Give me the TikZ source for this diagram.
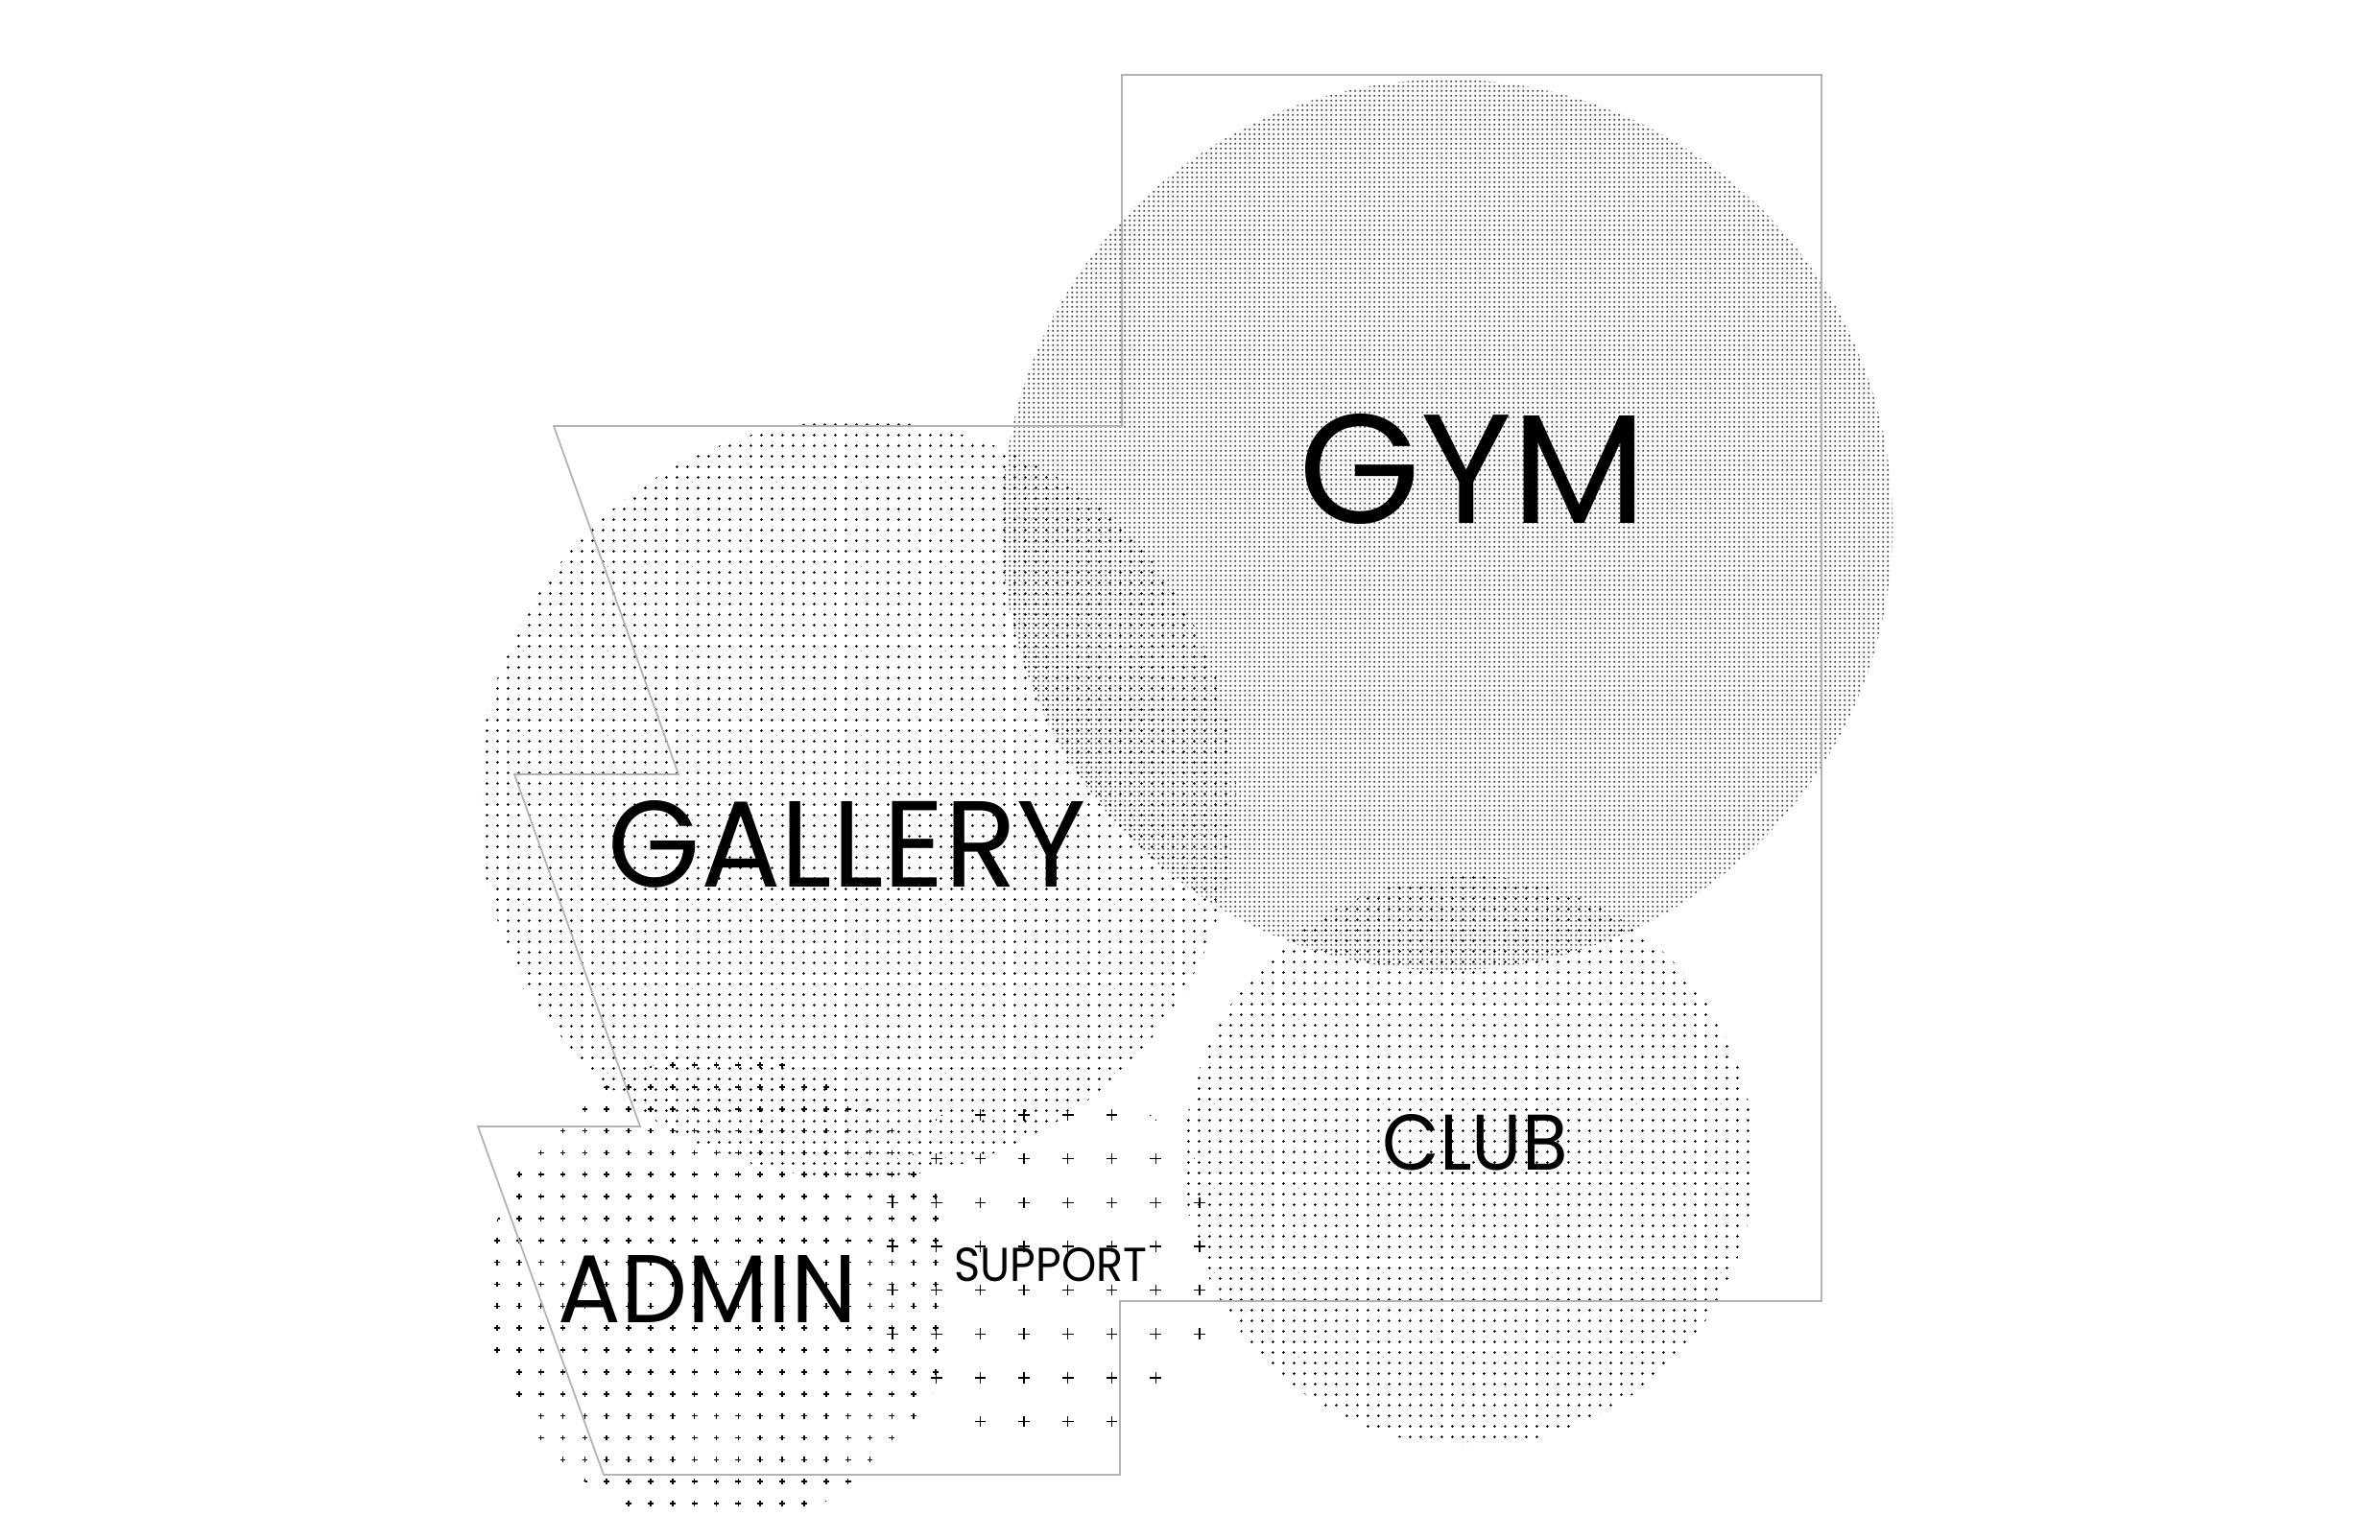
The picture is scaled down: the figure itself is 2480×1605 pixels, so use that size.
\documentclass[tikz,border=0pt]{standalone}
\usepackage{fontspec}
\setmainfont{Poppins}
\usepackage{graphicx}
\usetikzlibrary{patterns}

% dot fields (tile sizes in pt; 1 px of the reference = 0.01cm = 0.2845pt)
\pgfdeclarepatternformonly{gymdots}{\pgfqpoint{0pt}{0pt}}{\pgfqpoint{1.48pt}{1.48pt}}{\pgfqpoint{1.48pt}{1.48pt}}%
  {\pgfpathrectangle{\pgfqpoint{0.49pt}{0.49pt}}{\pgfqpoint{0.5pt}{0.5pt}}\pgfusepath{fill}}
\pgfdeclarepatternformonly{galdots}{\pgfqpoint{0pt}{0pt}}{\pgfqpoint{3.25pt}{3.25pt}}{\pgfqpoint{3.25pt}{3.25pt}}%
  {\pgfpathcircle{\pgfqpoint{1.625pt}{1.625pt}}{0.43pt}\pgfusepath{fill}}
\pgfdeclarepatternformonly{clubdots}{\pgfqpoint{0pt}{0pt}}{\pgfqpoint{3.25pt}{3.25pt}}{\pgfqpoint{3.25pt}{3.25pt}}%
  {\pgfpathcircle{\pgfqpoint{1.625pt}{1.625pt}}{0.42pt}\pgfusepath{fill}}

\tikzset{
  zone/.style={circle, inner sep=0pt, draw=none},
  outline/.style={draw=black!30, line width=0.5pt, line join=miter},
  label/.style={inner sep=0pt, text=black},
  adminmark/.style={draw=black, line width=0.45pt},
  supportmark/.style={draw=black, line width=0.38pt}
}

\begin{document}
\begin{tikzpicture}[x=0.01cm, y=-0.01cm]
\useasboundingbox (0,0) rectangle (2480,1605);
\fill[white] (0,0) rectangle (2480,1605);

% dotted zones
\node[zone, minimum size=9.28cm, pattern=gymdots, pattern color=black!75] (gymzone) at (1508,547) {};
\node[zone, minimum size=7.90cm, pattern=galdots, pattern color=black] (galleryzone) at (893,833) {};
\node[zone, minimum size=5.94cm, pattern=clubdots, pattern color=black] (clubzone) at (1531,1210) {};

% cross zones
\node[zone, minimum size=4.90cm] (adminzone) at (752,1345) {};
\node[zone, minimum size=3.80cm] (supportzone) at (1090,1318) {};

\begin{scope}
  \clip (adminzone.center) circle[radius=245];
  \foreach \j in {0,...,20}{
    \foreach \k in {0,...,20}{
      \draw[adminmark] ({518+22.85*\k},{1110+22.85*\j}) ++(-2.9,0) -- ++(5.8,0) ++(-2.9,-2.9) -- ++(0,5.8);
    }
  }
\end{scope}

\begin{scope}
  \clip (supportzone.center) circle[radius=190];
  \foreach \j in {0,...,7}{
    \foreach \k in {0,...,7}{
      \draw[supportmark] ({930+45.7*\k},{1162+45.65*\j}) ++(-5.8,0) -- ++(11.6,0) ++(-5.8,-5.8) -- ++(0,11.6);
    }
  }
\end{scope}

% site outline
\draw[outline] (1169,78) -- (1898,78) -- (1898,1356) -- (1167,1356) -- (1167,1537)
  -- (629,1537) -- (498,1174) -- (667,1174) -- (536,807) -- (707,807)
  -- (577,444) -- (1169,444) -- cycle;

% labels
\node[label] (gym) at (1535,489) {\resizebox{3.63cm}{1.14cm}{GYM}};
\node[label] (gallery) at (883,880) {\resizebox{4.98cm}{0.90cm}{GALLERY}};
\node[label] (club) at (1537,1191) {\resizebox{1.93cm}{0.58cm}{CLUB}};
\node[label] (admin) at (737,1343) {\resizebox{3.11cm}{0.70cm}{ADMIN}};
\node[label] (support) at (1095,1318) {\resizebox{2.01cm}{0.35cm}{SUPPORT}};
\end{tikzpicture}
\end{document}
